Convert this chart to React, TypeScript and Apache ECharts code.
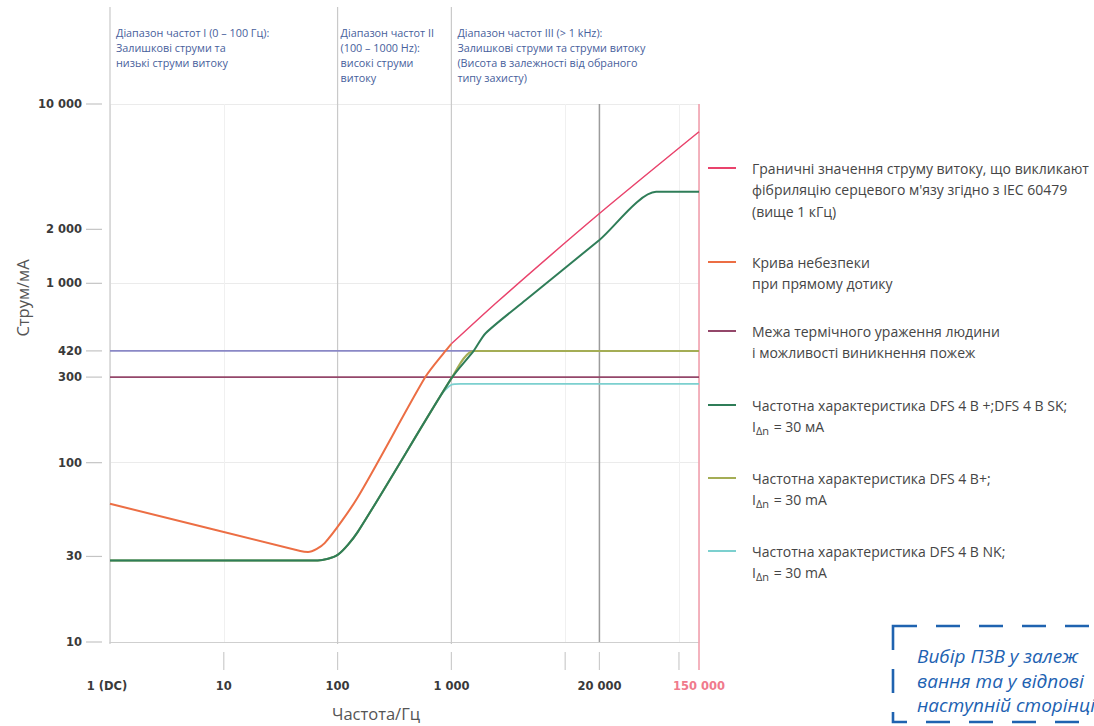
import React, { useEffect, useRef } from "react";
import * as echarts from "echarts";

// ---------- data (frequency in Hz, current in mA) ----------
const hazardFreq = [1, 47, 55, 77, 150, 590, 887, 1000];
const hazardCurrent = [59, 32.2, 31.8, 35.6, 64, 300, 420, 460];

const fibrillationFreq = [1000, 2600, 20000, 150000];
const fibrillationCurrent = [460, 800, 2450, 7000];

const thermalFreq = [1, 150000];
const thermalCurrent = [300, 300];

const limit420Freq = [1, 150000];
const limit420Current = [420, 420];

const skFreq = [1, 67, 100, 150, 1000, 1570, 2000, 4500, 20000, 63000, 150000];
const skCurrent = [28.5, 28.5, 30.6, 41, 295, 420, 527, 807, 1746, 3236, 3236];

const bPlusFreq = [1, 67, 100, 150, 1000, 1570, 150000];
const bPlusCurrent = [28.5, 28.5, 30.6, 41, 295, 420, 420];

const nkFreq = [1, 67, 100, 150, 800, 1000, 1200, 150000];
const nkCurrent = [28.5, 28.5, 30.6, 41, 235, 272, 275, 275];

const xTickValues = [1, 10, 100, 1000, 20000, 150000];
const xTickLabels = ["1 (DC)", "10", "100", "1 000", "20 000", "150 000"];
const xMinorTicks = [10, 100, 1000, 10000, 20000, 100000];

const yTickValues = [10, 30, 100, 300, 420, 1000, 2000, 10000];
const yTickLabels = ["10", "30", "100", "300", "420", "1 000", "2 000", "10 000"];

const rangeBounds = [1, 100, 1000];
const rangeTexts = [
  ["Діапазон частот I (0 – 100 Гц):", "Залишкові струми та", "низькі струми витоку"],
  ["Діапазон частот II", "(100 – 1000 Hz):", "високі струми", "витоку"],
  [
    "Діапазон частот III (> 1 kHz):",
    "Залишкові струми та струми витоку",
    "(Висота в залежності від обраного",
    "типу захисту)",
  ],
];

const legendTexts = [
  [
    "Граничні значення струму витоку, що викликают",
    "фібриляцію серцевого м'язу згідно з IEC 60479",
    "(вище 1 кГц)",
  ],
  ["Крива небезпеки", "при прямому дотику"],
  ["Межа термічного ураження людини", "і можливості виникнення пожеж"],
  ["Частотна характеристика DFS 4 B +;DFS 4 B SK;", "I{s|Δn} = 30 мА"],
  ["Частотна характеристика DFS 4 B+;", "I{s|Δn} = 30 mA"],
  ["Частотна характеристика DFS 4 B NK;", "I{s|Δn} = 30 mA"],
];

const noteTexts = ["Вибір ПЗВ у залеж", "вання та у відпові", "наступній сторінці"];

const xTitle = "Частота/Гц";
const yTitle = "Струм/мА";

// ---------- styles ----------
const C_FIB = "#e9436c";
const C_HAZ = "#ec6e44";
const C_THERM = "#94476a";
const C_420 = "#8a88c6";
const C_SK = "#2f7d58";
const C_BPLUS = "#a4ad55";
const C_NK = "#7cd0cf";
const FONT = "'Open Sans', 'Noto Sans', sans-serif";
const TICK_FONT = "'DejaVu Sans', sans-serif";

const pairs = (xs: number[], ys: number[]) => xs.map((x, i) => [x, ys[i]]);

export default function App() {
  const ref = useRef<HTMLDivElement>(null);

  useEffect(() => {
    document.body.style.margin = "0";
    const chart = echarts.init(ref.current!, null, { renderer: "svg" });
    const line = (name: string, xs: number[], ys: number[], color: string, width: number, z: number) => ({
      name,
      type: "line",
      data: pairs(xs, ys),
      showSymbol: false,
      symbol: "none",
      smooth: 0.25,
      z,
      lineStyle: { color, width },
      itemStyle: { color },
    });
    chart.setOption({
      animation: false,
      backgroundColor: "#ffffff",
      grid: { left: 110, top: 104, width: 589, height: 538 },
      xAxis: {
        type: "log",
        logBase: 10,
        min: 1,
        max: 150000,
        axisLabel: { show: false },
        axisTick: { show: false },
        axisLine: { show: true, lineStyle: { color: "#cfcfcf", width: 1.2 } },
        splitLine: { show: true, lineStyle: { color: "#f0f0f0" } },
      },
      yAxis: {
        type: "log",
        logBase: 10,
        min: 10,
        max: 10000,
        axisLabel: { show: false },
        axisTick: { show: false },
        axisLine: { show: false },
        splitLine: { show: true, lineStyle: { color: "#ebebeb" } },
      },
      series: [
        line("420", limit420Freq, limit420Current, C_420, 1.6, 2),
        line(legendTexts[2][0], thermalFreq, thermalCurrent, C_THERM, 1.6, 2),
        line(legendTexts[5][0], nkFreq, nkCurrent, C_NK, 1.8, 3),
        line(legendTexts[4][0], bPlusFreq, bPlusCurrent, C_BPLUS, 2, 4),
        line(legendTexts[3][0], skFreq, skCurrent, C_SK, 2, 5),
        line(legendTexts[1][0], hazardFreq, hazardCurrent, C_HAZ, 2, 6),
        line(legendTexts[0][0], fibrillationFreq, fibrillationCurrent, C_FIB, 1.5, 6),
      ],
    });

    const px = (v: number) => chart.convertToPixel({ xAxisIndex: 0 }, v) as number;
    const py = (v: number) => chart.convertToPixel({ yAxisIndex: 0 }, v) as number;
    const top = py(10000);
    const bottom = py(10);
    const g: any[] = [];

    // range separators
    rangeBounds.forEach((f) => {
      g.push({
        type: "line",
        shape: { x1: px(f), y1: 7, x2: px(f), y2: bottom + 2 },
        style: { stroke: "#c9c9c9", lineWidth: 1.2 },
        z: 1,
      });
    });
    // 20 kHz and 150 kHz lines
    g.push({
      type: "line",
      shape: { x1: px(20000), y1: top, x2: px(20000), y2: bottom },
      style: { stroke: "#9c9c9c", lineWidth: 1.5 },
      z: 1,
    });
    g.push({
      type: "line",
      shape: { x1: px(150000), y1: top, x2: px(150000), y2: bottom + 28 },
      style: { stroke: "#f2a0ae", lineWidth: 1.6 },
      z: 1,
    });
    // x minor ticks
    xMinorTicks.forEach((f) => {
      g.push({
        type: "line",
        shape: { x1: px(f), y1: bottom + 10, x2: px(f), y2: bottom + 28 },
        style: { stroke: "#cccccc", lineWidth: 1.2 },
      });
    });
    // x labels
    xTickValues.forEach((f, i) => {
      g.push({
        type: "text",
        x: px(f) - (i === 0 ? 3 : 0),
        y: bottom + 44,
        style: {
          text: xTickLabels[i],
          fill: i === xTickValues.length - 1 ? "#f07a8c" : "#3a3a3a",
          font: `bold 11.5px ${TICK_FONT}`,
          align: "center",
          verticalAlign: "middle",
        },
      });
    });
    // y ticks + labels
    yTickValues.forEach((v, i) => {
      const y = py(v);
      g.push({
        type: "line",
        shape: { x1: 86, y1: y, x2: 102, y2: y },
        style: { stroke: "#c4c4c4", lineWidth: 1.2 },
      });
      g.push({
        type: "text",
        x: 82,
        y,
        style: {
          text: yTickLabels[i],
          fill: "#3a3a3a",
          font: `bold 11.5px ${TICK_FONT}`,
          align: "right",
          verticalAlign: "middle",
        },
      });
    });
    // axis titles
    g.push({
      type: "text",
      x: 376,
      y: 713,
      style: { text: xTitle, fill: "#555555", font: `16.5px ${FONT}`, align: "center", verticalAlign: "middle" },
    });
    g.push({
      type: "text",
      x: 22,
      y: 298,
      rotation: Math.PI / 2,
      style: { text: yTitle, fill: "#555555", font: `16.5px ${FONT}`, align: "center", verticalAlign: "middle" },
    });
    // range annotations
    rangeTexts.forEach((lines, k) => {
      const x0 = px(rangeBounds[k]) + (k === 1 ? 3 : 6);
      lines.forEach((t, j) => {
        g.push({
          type: "text",
          x: x0,
          y: 32 + j * 15,
          style: { text: t, fill: "#47609c", font: `10.8px ${FONT}`, align: "left", verticalAlign: "middle" },
        });
      });
    });
    // legend
    const legendColors = [C_FIB, C_HAZ, C_THERM, C_SK, C_BPLUS, C_NK];
    const legendTops = [168, 262, 331, 405, 478, 551];
    legendTexts.forEach((lines, k) => {
      const y0 = legendTops[k];
      g.push({
        type: "line",
        shape: { x1: 708, y1: y0, x2: 736, y2: y0 },
        style: { stroke: legendColors[k], lineWidth: 2 },
      });
      lines.forEach((t, j) => {
        g.push({
          type: "text",
          x: 752,
          y: y0 + j * 21.5,
          style: {
            text: t,
            fill: "#454545",
            font: `14px ${FONT}`,
            align: "left",
            verticalAlign: "middle",
            rich: {
              s: { fontSize: 11, fontFamily: "Open Sans", fill: "#454545", padding: [7, 1, 0, 0] },
            },
          },
        });
      });
    });
    // note box
    g.push({
      type: "rect",
      shape: { x: 893, y: 626, width: 260, height: 96 },
      style: { fill: "none", stroke: "#1f63b0", lineWidth: 2.6, lineDash: [24, 19] },
    });
    noteTexts.forEach((t, j) => {
      g.push({
        type: "text",
        x: 917,
        y: 656 + j * 24.5,
        style: {
          text: t,
          fill: "#1d62b2",
          font: `italic 19px ${FONT}`,
          align: "left",
          verticalAlign: "middle",
        },
      });
    });

    chart.setOption({ graphic: g });
    return () => chart.dispose();
  }, []);

  return <div ref={ref} style={{ position: "absolute", left: 0, top: 0, width: 1094, height: 726 }} />;
}
